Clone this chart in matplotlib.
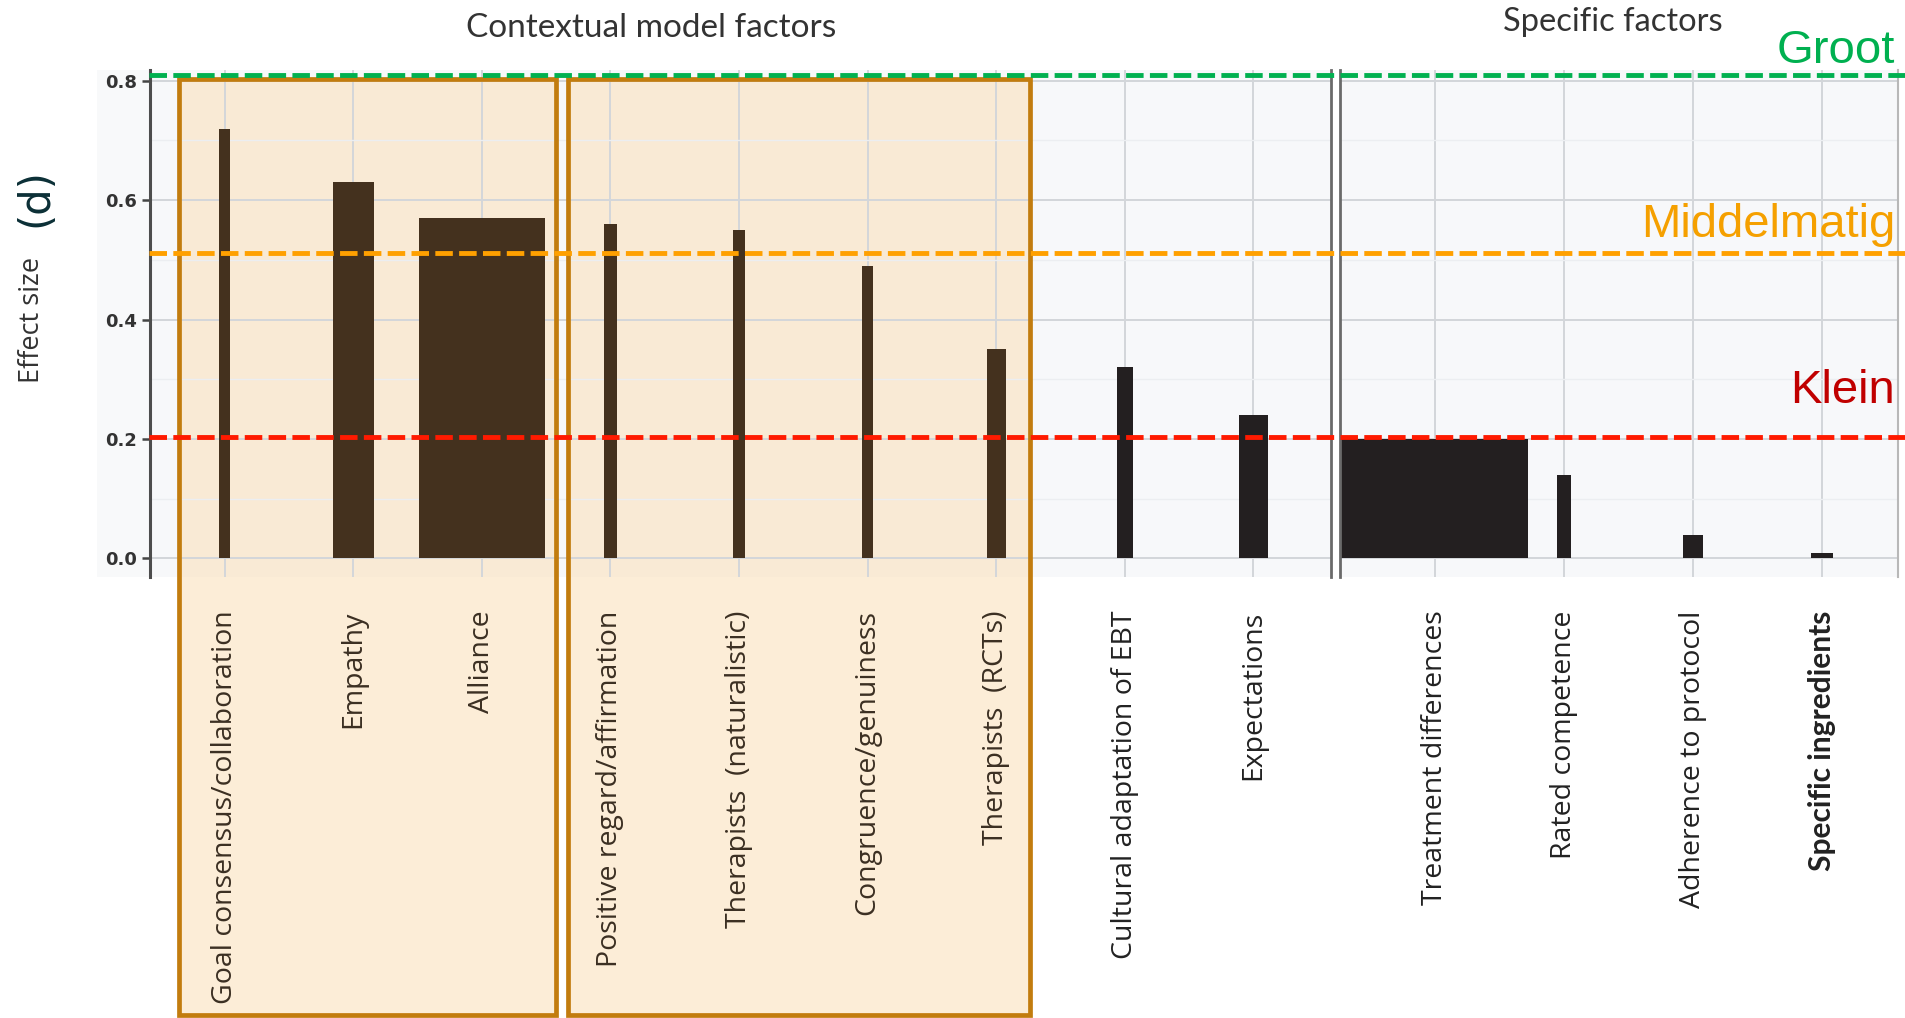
import matplotlib
matplotlib.use("Agg")
import matplotlib.pyplot as plt
from matplotlib.patches import Rectangle
from matplotlib.lines import Line2D
import matplotlib.transforms as mtransforms

# ---------------- data ----------------
contextual_labels = ["Goal consensus/collaboration", "Empathy", "Alliance",
                     "Positive regard/affirmation", "Therapists  (naturalistic)",
                     "Congruence/genuiness", "Therapists  (RCTs)",
                     "Cultural adaptation of EBT", "Expectations"]
contextual_values = [0.72, 0.63, 0.57, 0.56, 0.55, 0.49, 0.35, 0.32, 0.24]
contextual_widths = [0.085, 0.32, 0.98, 0.10, 0.10, 0.09, 0.15, 0.12, 0.23]

specific_labels = ["Treatment differences", "Rated competence",
                   "Adherence to protocol", "Specific ingredients"]
specific_values = [0.20, 0.14, 0.04, 0.01]
specific_widths = [1.45, 0.11, 0.155, 0.165]

yticks = [0.0, 0.2, 0.4, 0.6, 0.8]
ytick_labels = ["0.0", "0.2", "0.4", "0.6", "0.8"]

threshold_names = ["Groot", "Middelmatig", "Klein"]
threshold_levels = [0.81, 0.511, 0.204]

group_titles = ["Contextual model factors", "Specific factors"]

# ---------------- figure ----------------
W, H = 1905, 1018
fig = plt.figure(figsize=(W / 100, H / 100), dpi=100)


def fx(px):
    return px / W


def fy(py):
    return 1 - py / H


ax_bottom, ax_top = 577, 70
ax1 = fig.add_axes([fx(149.6), fy(ax_bottom), fx(1331) - fx(149.6), fy(ax_top) - fy(ax_bottom)])
ax2 = fig.add_axes([fx(1340), fy(ax_bottom), fx(1898) - fx(1340), fy(ax_top) - fy(ax_bottom)])

# faint grey band behind y tick labels
fig.add_artist(Rectangle((fx(97), fy(ax_bottom)), fx(149) - fx(97), fy(ax_top) - fy(ax_bottom),
                         transform=fig.transFigure, facecolor="#f8f9fa", lw=0, zorder=-1))

in_box = 7  # first seven categories lie inside the highlighted boxes
brown = "#44311e"
dark = "#231f20"
ctx_colors = [brown if i < in_box else dark for i in range(len(contextual_values))]
spec_colors = [dark] * len(specific_values)

for ax, labels, vals, widths, cols, xlim in [
    (ax1, contextual_labels, contextual_values, contextual_widths, ctx_colors, (-0.583, 8.603)),
    (ax2, specific_labels, specific_values, specific_widths, spec_colors, (-0.736, 3.589)),
]:
    ax.set_facecolor("#f7f8fa")
    ax.set_axisbelow(True)
    x = list(range(len(vals)))
    ax.bar(x, vals, width=widths, color=cols, linewidth=0, zorder=2)
    ax.set_xlim(*xlim)
    ax.set_ylim(-0.031, 0.818)
    ax.set_xticks(x)
    ax.set_xticklabels(labels, rotation=90, va="top", ha="center",
                       fontsize=20.5, family="Open Sans")
    ax.tick_params(axis="x", length=0, pad=24)
    ax.set_yticks(yticks)
    ax.set_yticks([0.1, 0.3, 0.5, 0.7], minor=True)
    ax.grid(which="major", color="#d3d6da", lw=1.4)
    ax.grid(which="minor", axis="y", color="#eceef1", lw=1.0)
    ax.tick_params(axis="y", which="minor", length=0)
    for s in ["top", "bottom"]:
        ax.spines[s].set_visible(False)

# colours of tick labels
for i, t in enumerate(ax1.get_xticklabels()):
    t.set_color("#3b2f22" if i < in_box else "#222222")
for i, t in enumerate(ax2.get_xticklabels()):
    t.set_color("#222222")
    if i == len(specific_labels) - 1:
        t.set_fontweight("bold")
        t.set_family("Lato")
        t.set_fontsize(21.5)

ax1.set_yticklabels(ytick_labels)
ax1.tick_params(axis="y", length=6, width=1.8, color="#444444", pad=3,
                labelsize=13, labelcolor="#333333")
for t in ax1.get_yticklabels():
    t.set_fontweight("bold")
ax2.tick_params(axis="y", which="both", left=False, labelleft=False)

ax1.spines["left"].set_color("#4d4d4d")
ax1.spines["left"].set_linewidth(2.2)
ax1.spines["right"].set_color("#6a6a6a")
ax1.spines["right"].set_linewidth(2.0)
ax2.spines["left"].set_color("#6a6a6a")
ax2.spines["left"].set_linewidth(2.0)
ax2.spines["right"].set_color("#b8b8b8")
ax2.spines["right"].set_linewidth(1.5)

# highlighted boxes (x in data of ax1, y in figure fraction)
trans_box = mtransforms.blended_transform_factory(ax1.transData, fig.transFigure)
box_spans = [(-0.358, 2.575), (2.672, 6.259)]
box_bottom, box_top = 0.003, fy(79)
for x0, x1 in box_spans:
    ax1.add_patch(Rectangle((x0, box_bottom), x1 - x0, box_top - box_bottom,
                            transform=trans_box, facecolor="#fbddb1", alpha=0.5,
                            lw=0, zorder=0.4, clip_on=False))
    ax1.add_patch(Rectangle((x0, box_bottom), x1 - x0, box_top - box_bottom,
                            transform=trans_box, fill=False, edgecolor="#c27c0e",
                            lw=3.4, zorder=6, clip_on=False, joinstyle="miter"))

# threshold lines spanning both panels
trans_h = mtransforms.blended_transform_factory(fig.transFigure, ax1.transData)
line_colors = ["#00b050", "#ffa000", "#ff1a00"]
for lvl, col in zip(threshold_levels, line_colors):
    fig.add_artist(Line2D([fx(149), 1.0], [lvl, lvl], transform=trans_h, color=col,
                          lw=3.5, linestyle=(0, (3.6, 1.3)), zorder=3))

# threshold labels
text_colors = ["#00b050", "#f5a000", "#c00000"]
text_baselines = [63, 237, 403]
for name, col, yb in zip(threshold_names, text_colors, text_baselines):
    fig.text(fx(1895), fy(yb), name, ha="right", va="baseline", fontsize=34,
             family="Liberation Sans", color=col)

# group titles
fig.text(fx(651), fy(28), group_titles[0], ha="center", va="center",
         fontsize=24, family="Lato", color="#333333")
fig.text(fx(1613), fy(22), group_titles[1], ha="center", va="center",
         fontsize=23.5, family="Lato", color="#333333")

# y-axis label
fig.text(fx(31.7), fy(320), "Effect size", rotation=90, ha="center", va="center",
         fontsize=19.5, family="Open Sans", color="#333333")
fig.text(fx(35), fy(198), "(d)", rotation=90, ha="center", va="center",
         fontsize=30, family="DejaVu Sans", color="#0b2f36")

fig.savefig("out.png", dpi=100)
